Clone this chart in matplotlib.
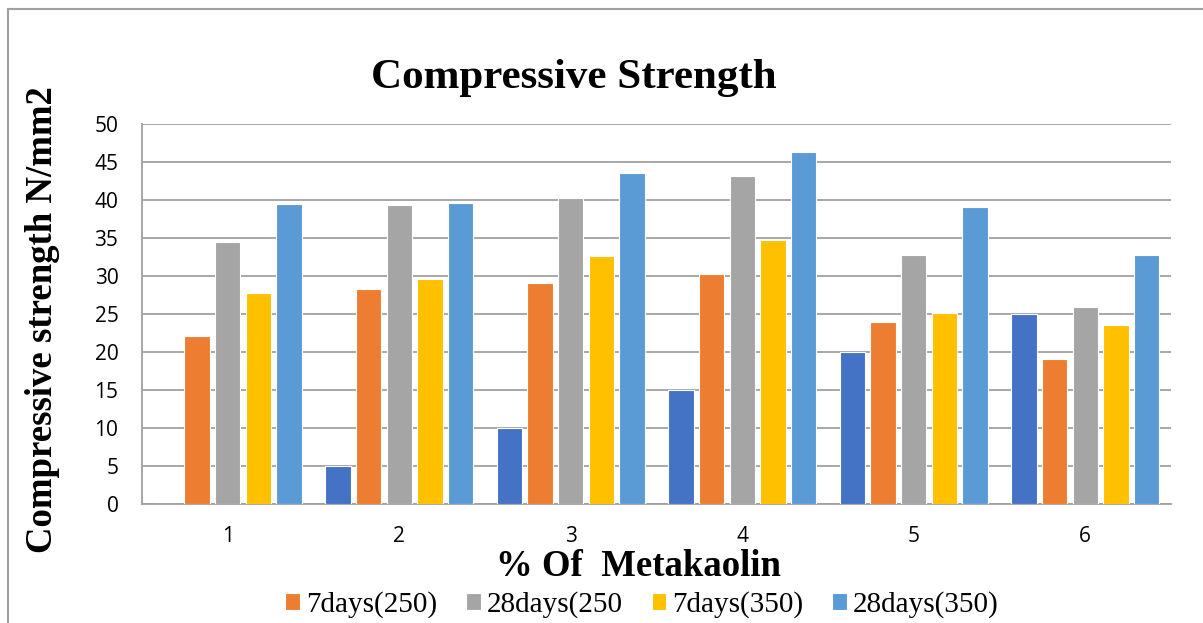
import matplotlib
matplotlib.use("Agg")
import matplotlib.pyplot as plt
from matplotlib.lines import Line2D
import numpy as np

# Compressive strength (N/mm2) for each metakaolin group
groups = [1, 2, 3, 4, 5, 6]
metakaolin_pct = [0, 5, 10, 15, 20, 25]
days7_250 = [22.1, 28.3, 29.1, 30.2, 24.0, 19.1]
days28_250 = [34.5, 39.3, 40.2, 43.2, 32.8, 25.9]
days7_350 = [27.7, 29.6, 32.6, 34.7, 25.1, 23.6]
days28_350 = [39.5, 39.6, 43.6, 46.3, 39.1, 32.8]

series = [
    (metakaolin_pct, "#4472C4", "_nolegend_"),
    (days7_250, "#ED7D31", "7days(250)"),
    (days28_250, "#A5A5A5", "28days(250"),
    (days7_350, "#FFC000", "7days(350)"),
    (days28_350, "#5B9BD5", "28days(350)"),
]

W, H = 1203, 623
fig = plt.figure(figsize=(W / 100, H / 100), dpi=100)
ax = fig.add_axes([142 / W, 1 - 504 / H, (1171 - 142) / W, (504 - 124) / H])

x = np.arange(len(groups)) + 1
step = 0.179
width = 0.148
for i, (vals, color, label) in enumerate(series):
    ax.bar(x + (i - 2) * step, vals, width=width, color=color,
           edgecolor="white", linewidth=0.8, label=label, zorder=3)

ax.set_xlim(0.5, 6.5)
ax.set_ylim(0, 50)
ax.set_yticks(np.arange(0, 51, 5))
ax.set_xticks(x)
ax.set_xticklabels([str(g) for g in groups])
ax.yaxis.grid(True, color="#A0A0A0", linewidth=1.3, zorder=0)
ax.set_axisbelow(True)
for s in ["top", "right"]:
    ax.spines[s].set_visible(False)
for s in ["left", "bottom"]:
    ax.spines[s].set_color("#A0A0A0")
    ax.spines[s].set_linewidth(1.3)
ax.tick_params(axis="both", length=0, labelsize=15, labelcolor="#000000")
ax.tick_params(axis="y", pad=17)
ax.tick_params(axis="x", pad=16)
for lbl in ax.get_xticklabels() + ax.get_yticklabels():
    lbl.set_fontfamily("Open Sans")

serif = "Liberation Serif"
fig.text(574 / W, 1 - 78 / H, "Compressive Strength", ha="center", va="center",
         fontsize=31, fontweight="bold", family=serif)
fig.text(43 / W, 1 - 320 / H, "Compressive strength N/mm2", ha="center", va="center",
         rotation=90, fontsize=26.5, fontweight="bold", family=serif)
fig.text(638 / W, 1 - 566 / H, "% Of  Metakaolin", ha="center", va="center",
         fontsize=26.5, fontweight="bold", family=serif)

handles, labels = ax.get_legend_handles_labels()
fig.legend(handles, labels, loc="center", bbox_to_anchor=(642 / W, 1 - 605 / H),
           ncol=4, frameon=False, prop={"family": serif, "size": 21},
           handlelength=0.5, handleheight=0.5, handletextpad=0.2, columnspacing=1.0,
           borderaxespad=0, borderpad=0)

# outer chart frame
fig.add_artist(Line2D([8 / W, 1.0], [1 - 9 / H, 1 - 9 / H], color="#A0A0A0", lw=1.5,
                      transform=fig.transFigure))
fig.add_artist(Line2D([8 / W, 8 / W], [0.0, 1 - 9 / H], color="#A0A0A0", lw=1.5,
                      transform=fig.transFigure))

fig.savefig("out.png", dpi=100)
